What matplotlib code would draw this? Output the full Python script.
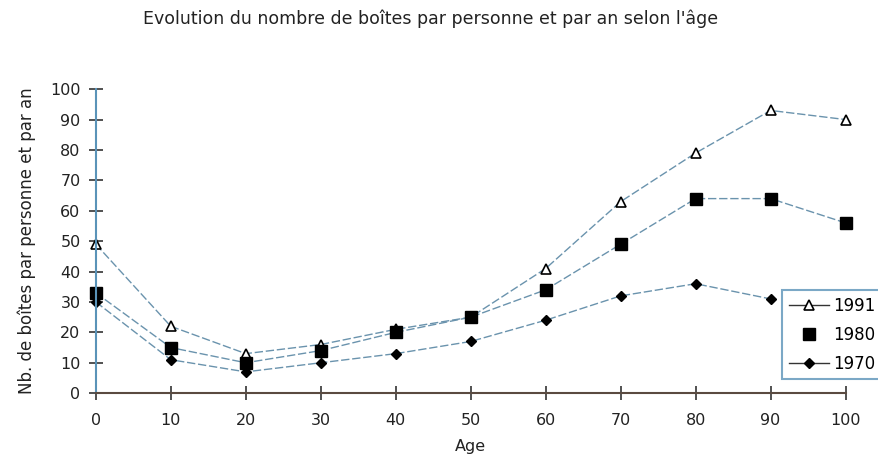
import matplotlib

matplotlib.use("Agg")

import matplotlib.pyplot as plt

plt.rcParams["font.family"] = ["DejaVu Sans"]

AGES = [0, 10, 20, 30, 40, 50, 60, 70, 80, 90, 100]
Y1991 = [49, 22, 13, 16, 21, 25, 41, 63, 79, 93, 90]
Y1980 = [33, 15, 10, 14, 20, 25, 34, 49, 64, 64, 56]
AGES_1970 = [0, 10, 20, 30, 40, 50, 60, 70, 80, 90]
Y1970 = [30, 11, 7, 10, 13, 17, 24, 32, 36, 31]

LINE = "#6a93ad"
AXIS = "#5a93b8"

fig = plt.figure(figsize=(8.79, 4.62), dpi=100)
ax = fig.add_axes([0.109, 0.149, 0.853, 0.658])

ax.plot(AGES, Y1991, color=LINE, lw=1.0, ls=(0, (6, 2)), marker="^", ms=7.5,
        mfc="white", mec="black", mew=1.2, label="1991", clip_on=False)
ax.plot(AGES, Y1980, color=LINE, lw=1.0, ls=(0, (6, 2)), marker="s", ms=9,
        mfc="black", mec="black", label="1980", clip_on=False)
ax.plot(AGES_1970, Y1970, color=LINE, lw=1.0, ls=(0, (6, 2)), marker="D", ms=5.5,
        mfc="black", mec="black", label="1970", clip_on=False)

ax.set_xlim(0, 100)
ax.set_ylim(0, 100)
ax.set_xticks(range(0, 101, 10))
ax.set_yticks(range(0, 101, 10))
ax.spines["top"].set_visible(False)
ax.spines["right"].set_visible(False)
for side in ("left", "bottom"):
    ax.spines[side].set_color(AXIS)
    ax.spines[side].set_linewidth(1.5)
ax.spines["bottom"].set_color("#5a4a40")
ax.tick_params(direction="inout", length=10, width=1.2, color="#333333",
               labelsize=11.5, labelcolor="#222222", pad=6)
ax.tick_params(axis="x", pad=9)

ax.set_xlabel("Age", fontsize=11.5, color="#222222", labelpad=8)
ax.set_ylabel("Nb. de boîtes par personne et par an", fontsize=12, color="#222222", labelpad=10)
fig.text(0.49, 0.96, "Evolution du nombre de boîtes par personne et par an selon l'âge",
         ha="center", va="center", fontsize=12.5, color="#222222")

leg = ax.legend(loc="lower left", bbox_to_anchor=(0.915, 0.045), frameon=True, fancybox=False,
                fontsize=12, handlelength=2.4, borderpad=0.4, labelspacing=0.65,
                handletextpad=0.3, borderaxespad=0)
leg.get_frame().set_edgecolor(AXIS)
leg.get_frame().set_linewidth(1.5)
for line in leg.get_lines():
    line.set_linestyle("-")
    line.set_color("#333333")
leg.get_lines()[1].set_linestyle("none")

fig.savefig("out.png", dpi=100)
